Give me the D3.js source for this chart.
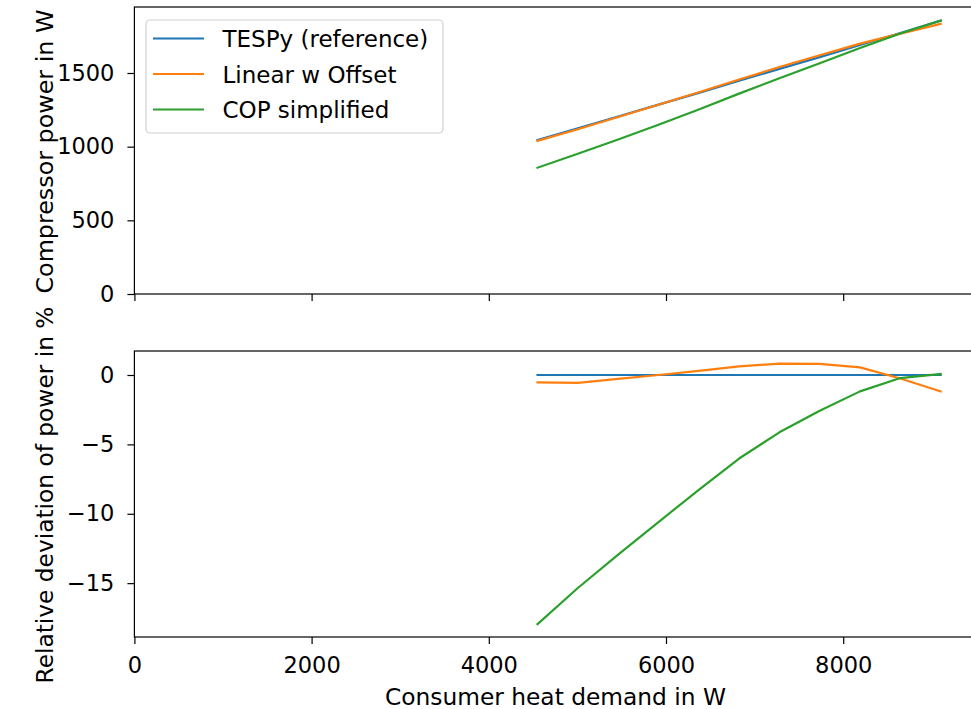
<!DOCTYPE html>
<html>
<head>
<meta charset="utf-8">
<script src="https://cdn.jsdelivr.net/npm/d3@7"></script>
<style>
  html, body { margin: 0; padding: 0; background: #fff; }
  svg { display: block; font-family: "DejaVu Sans", sans-serif; }
</style>
</head>
<body>
<svg id="chart" width="971" height="709"></svg>
<script>
// Consumer heat demand (W) at each operating point
const heatDemand = [4550, 5005, 5460, 5915, 6370, 6825, 7280, 7735, 8190, 8645, 9100];

// Compressor power (W) per model
const powerTespy  = [1045, 1125, 1205, 1285, 1365, 1447, 1528, 1608, 1690, 1772, 1855];
const powerLinear = [1039.5, 1118.6, 1201.6, 1285.0, 1369.1, 1456.0, 1540.5, 1620.9, 1699.3, 1767.6, 1833.1];
const powerCop    = [857.4, 952.3, 1049.0, 1148.8, 1252.1, 1359.9, 1464.9, 1566.7, 1670.1, 1768.1, 1856.3];

// Relative deviation of power against the TESPy reference (%)
const devTespy  = [0, 0, 0, 0, 0, 0, 0, 0, 0, 0, 0];
const devLinear = [-0.53, -0.57, -0.28, 0.0, 0.30, 0.62, 0.82, 0.80, 0.55, -0.25, -1.18];
const devCop    = [-17.95, -15.35, -12.95, -10.6, -8.27, -6.02, -4.13, -2.57, -1.18, -0.22, 0.07];

const seriesNames = ["TESPy (reference)", "Linear w Offset", "COP simplified"];
const seriesColors = ["#1f77b4", "#ff7f0e", "#2ca02c"];

const xTicks = [0, 2000, 4000, 6000, 8000];
const topTicks = [0, 500, 1000, 1500];
const bottomTicks = [0, -5, -10, -15];

const xLabel = "Consumer heat demand in W";
const topLabel = "Compressor power in W";
const bottomLabel = "Relative deviation of power in %";

const svg = d3.select("#chart");
const TICK_FONT = 22.5;
const LABEL_FONT = 23;

const x = d3.scaleLinear().domain([0, 9500]).range([134.4, 976.1]);
const yTop = d3.scaleLinear().domain([0, 1948]).range([294, 7]);
const yBot = d3.scaleLinear().domain([-18.88, 1.73]).range([637, 351]);

// stretch a text node to a given rendered length
function fitLength(sel, len) {
  sel.attr("textLength", len).attr("lengthAdjust", "spacingAndGlyphs");
}

function styleAxis(g) {
  g.selectAll(".domain").remove();
  g.selectAll(".tick line").attr("stroke", "#000").attr("stroke-width", 1.2);
  g.selectAll(".tick text").attr("fill", "#000").style("font-size", TICK_FONT + "px")
    .style("font-family", "DejaVu Sans, sans-serif");
}

function panel(yScale, yTicks, series, label, labelLen, showXLabels) {
  const [y0, y1] = yScale.range();
  const [x0, x1] = x.range();

  const line = d3.line().x((d, i) => x(heatDemand[i])).y(d => yScale(d));
  series.forEach((vals, k) => {
    svg.append("path").datum(vals)
      .attr("fill", "none")
      .attr("stroke", seriesColors[k])
      .attr("stroke-width", 2.2)
      .attr("stroke-linejoin", "round")
      .attr("stroke-linecap", "square")
      .attr("d", line);
  });

  const ya = svg.append("g").attr("transform", `translate(${x0},0)`)
    .call(d3.axisLeft(yScale).tickValues(yTicks).tickSize(7).tickPadding(13)
      .tickFormat(d => d < 0 ? "\u2212" + Math.abs(d) : String(d)));
  styleAxis(ya);

  const xa = svg.append("g").attr("transform", `translate(0,${y0})`)
    .call(d3.axisBottom(x).tickValues(xTicks).tickSize(7).tickPadding(13)
      .tickFormat(showXLabels ? d3.format("d") : () => ""));
  styleAxis(xa);

  svg.append("rect")
    .attr("x", x0).attr("y", y1)
    .attr("width", x1 - x0).attr("height", y0 - y1)
    .attr("fill", "none").attr("stroke", "#000").attr("stroke-width", 1.2);

  const t = svg.append("text")
    .attr("transform", `translate(53,${(y0 + y1) / 2 + 1}) rotate(-90)`)
    .attr("text-anchor", "middle")
    .style("font-size", LABEL_FONT + "px")
    .text(label);
  fitLength(t, labelLen);
}

panel(yTop, topTicks, [powerTespy, powerLinear, powerCop], topLabel, 284, false);
panel(yBot, bottomTicks, [devTespy, devLinear, devCop], bottomLabel, 377, true);

const xl = svg.append("text")
  .attr("x", 555.5)
  .attr("y", 705)
  .attr("text-anchor", "middle")
  .style("font-size", LABEL_FONT + "px")
  .text(xLabel);
fitLength(xl, 341);

// legend
const lg = svg.append("g");
lg.append("rect")
  .attr("x", 146).attr("y", 20).attr("width", 297).attr("height", 113)
  .attr("rx", 4).attr("ry", 4)
  .attr("fill", "#fff").attr("fill-opacity", 0.8)
  .attr("stroke", "#d0d0d0").attr("stroke-width", 1.2);
seriesNames.forEach((name, k) => {
  const yy = 38.5 + k * 35.5;
  lg.append("line")
    .attr("x1", 153).attr("x2", 204).attr("y1", yy).attr("y2", yy)
    .attr("stroke", seriesColors[k]).attr("stroke-width", 2.2);
  lg.append("text")
    .attr("x", 222.5).attr("y", yy + 8.5)
    .style("font-size", LABEL_FONT + "px")
    .text(name);
});
</script>
</body>
</html>
